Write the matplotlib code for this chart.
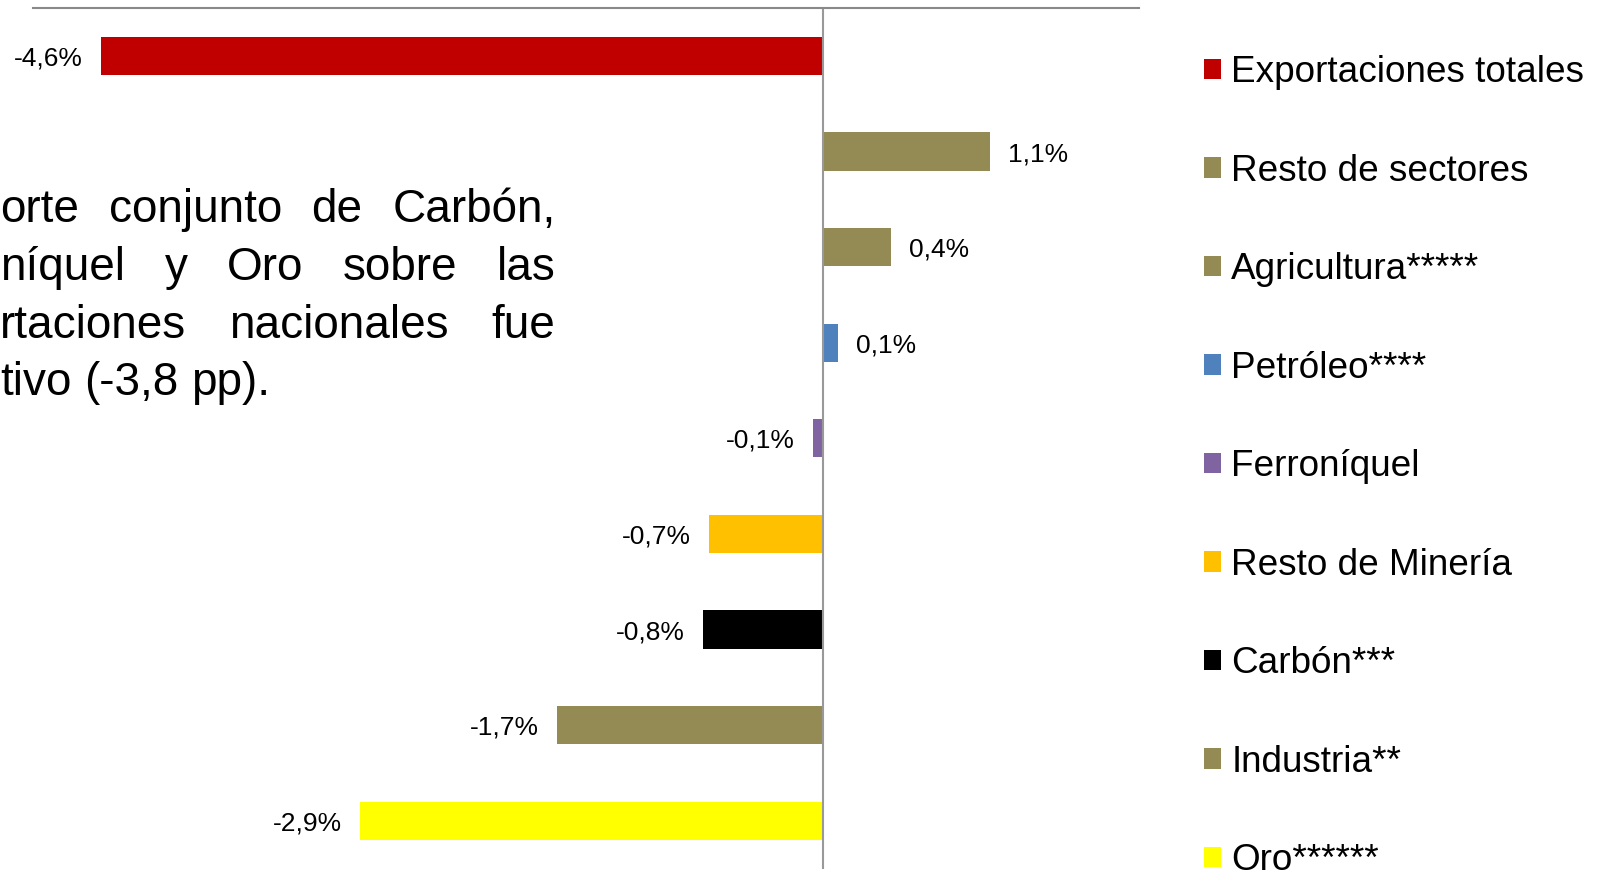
import matplotlib
matplotlib.use("Agg")
import matplotlib.pyplot as plt

plt.rcParams["font.family"] = ["Liberation Sans", "DejaVu Sans"]

categories = ["Exportaciones totales", "Resto de sectores", "Agricultura*****",
              "Petróleo****", "Ferroníquel", "Resto de Minería", "Carbón***",
              "Industria**", "Oro******"]
values = [-4.57, 1.06, 0.43, 0.10, -0.06, -0.72, -0.76, -1.68, -2.93]
colors = ["#C00000", "#948A54", "#948A54", "#4F81BD", "#8064A2", "#FFC000",
          "#000000", "#948A54", "#FFFF00"]
# text box cut off at the left edge of the slide
note_lines = [["orte", "conjunto", "de", "Carbón,"],
              ["níquel", "y", "Oro", "sobre", "las"],
              ["rtaciones", "nacionales", "fue"],
              ["tivo", "(-3,8", "pp)."]]

W, H = 1604, 873
fig = plt.figure(figsize=(W / 100, H / 100), dpi=100)
ax = fig.add_axes([32.7 / W, 1 - 868.5 / H, 1105.9 / W, 860.3 / H])

for i, (cat, v, c) in enumerate(zip(categories, values, colors)):
    ax.barh(i, v, height=0.4, color=c, label=cat)
    lab = f"{v:.1f}%".replace(".", ",")
    ax.annotate(lab, (v, i), xytext=(13 if v > 0 else -13, 0),
                textcoords="offset points", ha="left" if v > 0 else "right",
                va="center_baseline", fontsize=19)

ax.set_xlim(-5, 2)
ax.set_ylim(len(categories) - 0.5, -0.5)
ax.set_xticks([]); ax.set_yticks([])
for s in ("left", "right", "bottom"):
    ax.spines[s].set_visible(False)
ax.spines["top"].set_color("#888888")
ax.spines["top"].set_linewidth(1.5)
ax.axvline(0, color="#999999", lw=1.5)

ax.legend(loc="upper left", bbox_to_anchor=(1204 / W, 1 - 55 / H),
          bbox_transform=fig.transFigure, frameon=False, fontsize=26.6,
          handlelength=0.47, handleheight=0.47, handletextpad=0.27,
          labelspacing=1.72, borderpad=0, borderaxespad=0)

# justified paragraph
r = fig.canvas.get_renderer()
x_left, x_right = 0, 555.5
baselines = [222, 279.5, 337.5, 395.5]
space = 33 * 100 / 72 * 0.278
for k, (words, yb) in enumerate(zip(note_lines, baselines)):
    txts = [fig.text(0, 1 - yb / H, w, fontsize=33, va="baseline") for w in words]
    widths = [t.get_window_extent(r).width for t in txts]
    if k < len(note_lines) - 1:
        gap = (x_right - x_left - sum(widths)) / (len(words) - 1)
    else:
        gap = space
    x = x_left
    for t, w in zip(txts, widths):
        t.set_x(x / W)
        x += w + gap

fig.savefig("out.png", dpi=100)
